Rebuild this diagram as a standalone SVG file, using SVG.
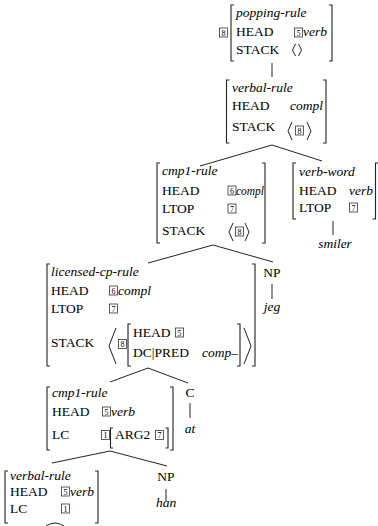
<svg xmlns="http://www.w3.org/2000/svg" width="378" height="526" viewBox="0 0 378 526">
<style>
text{font-family:"Liberation Serif","Times New Roman",serif;font-size:13.5px;fill:#000}
.i{font-style:italic}
.n{font-size:8px;text-anchor:middle}
.br{fill:none;stroke:#222;stroke-width:1.1}
.bx{fill:none;stroke:#333;stroke-width:0.8}
.ln{fill:none;stroke:#222;stroke-width:1}
</style>
<rect width="378" height="526" fill="#fff"/>

<g id="popping-rule">
<rect class="bx" x="219.5" y="28" width="8" height="9"/><text class="n" x="223.5" y="35.5">8</text>
<path class="br" d="M234,5H231V61H234"/>
<text class="i" x="236" y="17">popping-rule</text>
<text x="236" y="36">HEAD</text>
<rect class="bx" x="294.5" y="28" width="8" height="9"/><text class="n" x="298.5" y="35.5">5</text>
<text class="i" x="303" y="36">verb</text>
<text x="236" y="54">STACK</text>
<path class="ln" d="M295.5,44L292.5,50L295.5,56M298.5,44L301.5,50L298.5,56"/>
<path class="br" d="M329,5H332V61H329"/>
</g>

<g id="verbal-rule-top">
<path class="br" d="M229.5,80H226.5V143H229.5"/>
<text class="i" x="232" y="92">verbal-rule</text>
<text x="232" y="110">HEAD</text>
<text class="i" x="290" y="110">compl</text>
<text x="232" y="131">STACK</text>
<path class="ln" d="M292,122L288,131L292,140M307,122L311,131L307,140"/>
<rect class="bx" x="295.5" y="126" width="8" height="9"/><text class="n" x="299.5" y="133.5">8</text>
<path class="br" d="M323,80H326V143H323"/>
</g>

<g id="cmp1-rule-upper">
<path class="br" d="M160,163H157V243H160"/>
<text class="i" x="162" y="175">cmp1-rule</text>
<text x="162" y="195">HEAD</text>
<rect class="bx" x="228" y="186" width="8" height="9"/><text class="n" x="232" y="193.5">6</text>
<text class="i" x="236" y="195" textLength="28" lengthAdjust="spacingAndGlyphs">compl</text>
<text x="162" y="213">LTOP</text>
<rect class="bx" x="228" y="204" width="8" height="9"/><text class="n" x="232" y="211.5">7</text>
<text x="162" y="235">STACK</text>
<path class="ln" d="M233,223L229,232L233,241M245,223L249,232L245,241"/>
<rect class="bx" x="235.5" y="227" width="8" height="9"/><text class="n" x="239.5" y="234.5">8</text>
<path class="br" d="M262,163H265V243H262"/>
</g>

<g id="verb-word">
<path class="br" d="M296,163H293V219H296"/>
<text class="i" x="299" y="176">verb-word</text>
<text x="299" y="195">HEAD</text>
<text class="i" x="349" y="195">verb</text>
<text x="299" y="212">LTOP</text>
<rect class="bx" x="349.5" y="203" width="8" height="9"/><text class="n" x="353.5" y="210.5">7</text>
<path class="br" d="M378,163H375.5V219H372.5"/>
</g>

<g id="smiler">
<text class="i" x="335" y="248" text-anchor="middle">smiler</text>
</g>

<g id="licensed-cp-rule">
<path class="br" d="M50,264H47V366H50"/>
<text class="i" x="51" y="276">licensed-cp-rule</text>
<text x="51" y="295">HEAD</text>
<rect class="bx" x="109.5" y="286" width="8" height="9"/><text class="n" x="113.5" y="293.5">6</text>
<text class="i" x="118" y="295">compl</text>
<text x="51" y="313">LTOP</text>
<rect class="bx" x="109.5" y="304" width="8" height="9"/><text class="n" x="113.5" y="311.5">7</text>
<text x="51" y="347">STACK</text>
<path class="ln" d="M116,328L109,346L116,364"/>
<rect class="bx" x="118.5" y="339.5" width="8" height="9"/><text class="n" x="122.5" y="347">8</text>
<path class="br" d="M131,324H128V366H131"/>
<text x="133" y="337">HEAD</text>
<rect class="bx" x="175.5" y="328" width="8" height="9"/><text class="n" x="179.5" y="335.5">5</text>
<text x="133" y="357">DC|PRED</text>
<text class="i" x="202" y="357">comp–</text>
<path class="br" d="M237,324H240V366H237"/>
<path class="ln" d="M244,328L251,346L244,364"/>
<path class="br" d="M252,264H255V366H252"/>
</g>

<g id="np-jeg">
<text x="272" y="277" text-anchor="middle">NP</text>
<text class="i" x="272" y="311" text-anchor="middle">jeg</text>
</g>

<g id="cmp1-rule-lower">
<path class="br" d="M50,387H47V450H50"/>
<text class="i" x="52" y="397">cmp1-rule</text>
<text x="52" y="416">HEAD</text>
<rect class="bx" x="102.5" y="407" width="8" height="9"/><text class="n" x="106.5" y="414.5">5</text>
<text class="i" x="111" y="416">verb</text>
<text x="52" y="439">LC</text>
<rect class="bx" x="101.5" y="430.5" width="8" height="9"/><text class="n" x="105.5" y="438">1</text>
<path class="br" d="M113,428H110.5V448H113"/>
<text x="115" y="439">ARG2</text>
<rect class="bx" x="155.5" y="430.5" width="8" height="9"/><text class="n" x="159.5" y="438">7</text>
<path class="br" d="M165.5,428H168V448H165.5"/>
<path class="br" d="M170,387H173V450H170"/>
</g>

<g id="c-at">
<text x="190" y="397" text-anchor="middle">C</text>
<text class="i" x="190" y="433" text-anchor="middle">at</text>
</g>

<g id="verbal-rule-bottom">
<path class="br" d="M8,471H5V523H8"/>
<text class="i" x="10" y="480">verbal-rule</text>
<text x="10" y="496">HEAD</text>
<rect class="bx" x="61.5" y="487" width="8" height="9"/><text class="n" x="65.5" y="494.5">5</text>
<text class="i" x="70" y="496">verb</text>
<text x="10" y="513">LC</text>
<rect class="bx" x="61.5" y="504" width="8" height="9"/><text class="n" x="65.5" y="511.5">1</text>
<path class="br" d="M95,471H98V523H95"/>
</g>

<g id="np-han">
<text x="166" y="481" text-anchor="middle">NP</text>
<text class="i" x="166" y="507" text-anchor="middle">han</text>
</g>

<g id="connectors">
<path class="ln" d="M272,63V77"/>
<path class="ln" d="M200,166L272,145L322,161"/>
<path class="ln" d="M333,221V235"/>
<path class="ln" d="M148,263L213,245L273,262"/>
<path class="ln" d="M272,284V299"/>
<path class="ln" d="M110,382L148,368L188,383"/>
<path class="ln" d="M190,403V418"/>
<path class="ln" d="M52,463L110,451L167,466"/>
<path class="ln" d="M166,489V501"/>
<path class="ln" d="M46,526Q55,520 64,526"/>
</g>
</svg>
